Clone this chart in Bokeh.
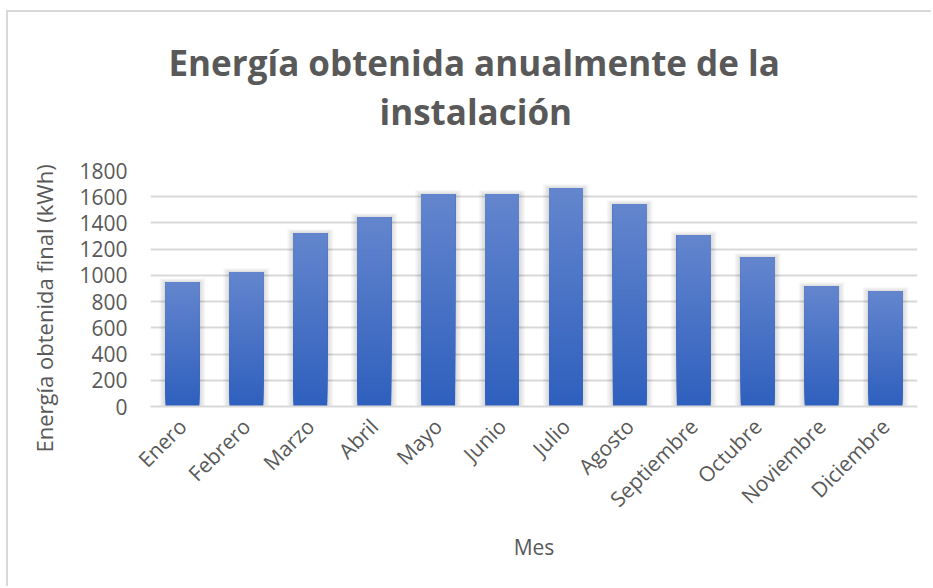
from math import pi

from bokeh.embed import file_html
from bokeh.models import ColumnDataSource, FixedTicker, Range1d, Title
from bokeh.plotting import figure
from bokeh.resources import INLINE

# Monthly energy yield of the installation (kWh)
months = ["Enero", "Febrero", "Marzo", "Abril", "Mayo", "Junio",
          "Julio", "Agosto", "Septiembre", "Octubre", "Noviembre", "Diciembre"]
energy_kwh = [945, 1022, 1320, 1442, 1617, 1617, 1663, 1541, 1304, 1137, 915, 877]
y_ticks = [0, 200, 400, 600, 800, 1000, 1200, 1400, 1600, 1800]

FONT = "Open Sans"
TEXT = "#595959"
GRID = "#d9d9d9"
BAR_W = 0.53
TOP_RGB = (99, 133, 205)
BOT_RGB = (47, 96, 190)
SLICES = 40

p = figure(x_range=months, y_range=Range1d(0, 1800),
           width=925, height=576,
           min_border_left=142, min_border_right=16,
           min_border_top=158, min_border_bottom=182,
           output_backend="svg", toolbar_location=None,
           background_fill_color="white", border_fill_color="white")
p.outline_line_color = None
p.margin = (10, 0, 0, 6)
p.styles = {"border-left": "2px solid #d9d9d9", "border-top": "2px solid #d9d9d9"}

# soft drop shadow behind each bar
for k in range(1, 5):
    p.vbar(x=months, top=[v + 8 * k for v in energy_kwh],
           width=BAR_W + k * 3.0 / 64, bottom=0,
           fill_color="black", fill_alpha=0.035, line_color=None)

# bars: overlapping slices give a vertical gradient (darker at the base)
xs, bottoms, tops, colors = [], [], [], []
for m, v in zip(months, energy_kwh):
    for i in range(SLICES):
        t = i / (SLICES - 1)
        rgb = tuple(round(BOT_RGB[c] + (TOP_RGB[c] - BOT_RGB[c]) * t) for c in range(3))
        xs.append(m)
        bottoms.append(v * i / SLICES)
        tops.append(v)
        colors.append("#%02x%02x%02x" % rgb)
src = ColumnDataSource(dict(x=xs, bottom=bottoms, top=tops, color=colors))
p.vbar(x="x", bottom="bottom", top="top", width=BAR_W, fill_color="color",
       line_color=None, source=src)

# grid
p.xgrid.grid_line_color = None
p.ygrid.grid_line_color = GRID
p.ygrid.grid_line_width = 2
p.ygrid.ticker = FixedTicker(ticks=y_ticks)
p.ygrid.level = "underlay"

# y axis
p.yaxis.ticker = FixedTicker(ticks=y_ticks)
p.yaxis.axis_line_color = None
p.yaxis.major_tick_line_color = None
p.yaxis.minor_tick_line_color = None
p.yaxis.major_label_text_font = FONT
p.yaxis.major_label_text_font_size = "21px"
p.yaxis.major_label_text_color = TEXT
p.yaxis.major_label_standoff = 17

# x axis
p.xaxis.axis_line_color = GRID
p.xaxis.axis_line_width = 2
p.xaxis.major_tick_line_color = None
p.xaxis.minor_tick_line_color = None
p.xaxis.major_label_orientation = pi / 4
p.xaxis.major_label_text_font = FONT
p.xaxis.major_label_text_font_size = "21px"
p.xaxis.major_label_text_color = TEXT
p.xaxis.major_label_standoff = 10
p.xaxis.axis_label = "Mes"
p.xaxis.axis_label_text_font = FONT
p.xaxis.axis_label_text_font_size = "21px"
p.xaxis.axis_label_text_font_style = "normal"
p.xaxis.axis_label_text_color = TEXT
p.xaxis.axis_label_standoff = 8

# y axis title
p.add_layout(Title(text="Energía obtenida final (kWh)", align="left",
                   text_font=FONT, text_font_size="22px", text_font_style="normal",
                   text_color=TEXT, offset=-46, standoff=35), "left")

# gap between the plot area and the chart title
p.add_layout(Title(text=" ", text_font_size="10px", standoff=23), "above")

# two-line chart title, centred on the whole chart box
p.add_layout(Title(text="instalación", align="left", offset=229,
                   text_font=FONT, text_font_size="35px", text_font_style="bold",
                   text_color=TEXT, standoff=0), "above")
p.add_layout(Title(text="Energía obtenida anualmente de la", align="left", offset=18,
                   text_font=FONT, text_font_size="35px", text_font_style="bold",
                   text_color=TEXT, standoff=0), "above")

open("out.html", "w").write(file_html(p, INLINE))
